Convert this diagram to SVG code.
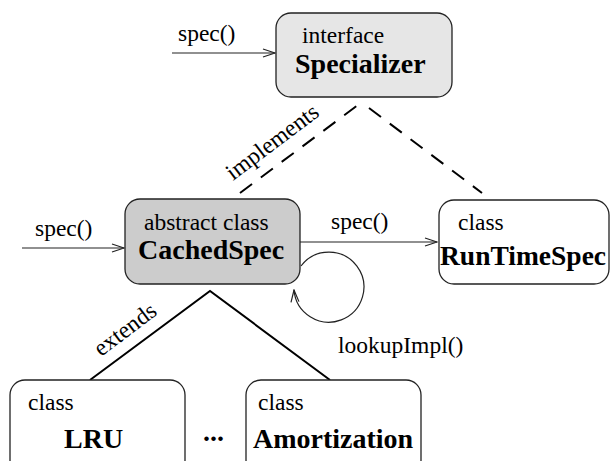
<svg xmlns="http://www.w3.org/2000/svg" width="611" height="461" viewBox="0 0 611 461">
<style>
.box{stroke:#222;stroke-width:1.3}
.n{font-family:"Liberation Serif","Times New Roman",serif;font-size:23.5px;fill:#000}
.b{font-family:"Liberation Serif","Times New Roman",serif;font-size:28px;font-weight:bold;fill:#000}
.ln{stroke:#222;stroke-width:1.2;fill:none}
</style>
<defs>
<marker id="ah" markerWidth="14" markerHeight="10" refX="13" refY="5" orient="auto" markerUnits="userSpaceOnUse">
<path d="M1,1 L13,5 L1,9" fill="none" stroke="#222" stroke-width="1.2"/>
</marker>
</defs>
<rect width="611" height="461" fill="#fff"/>
<g id="connectors">
<line class="ln" x1="172" y1="53" x2="275" y2="53" marker-end="url(#ah)"/>
<text class="n" x="178" y="41">spec()</text>
<line class="ln" x1="22" y1="248" x2="124" y2="248" marker-end="url(#ah)"/>
<text class="n" x="35" y="236">spec()</text>
<line class="ln" x1="300" y1="242" x2="437" y2="242" marker-end="url(#ah)"/>
<text class="n" x="331" y="229">spec()</text>
<path class="ln" d="M301 266 A35 35 0 1 1 294 290" marker-end="url(#ah)"/>
<text class="n" x="338" y="353">lookupImpl()</text>
<line x1="240" y1="193" x2="358" y2="105" stroke="#000" stroke-width="2" stroke-dasharray="15,11"/>
<line x1="369" y1="108" x2="482" y2="193" stroke="#000" stroke-width="2" stroke-dasharray="15,11"/>
<text class="n" transform="translate(233,181) rotate(-37)">implements</text>
<polyline points="90,380 210,291 330,380" fill="none" stroke="#000" stroke-width="2"/>
<text class="n" transform="translate(101,357) rotate(-37)">extends</text>
</g>
<g id="specializer">
<rect class="box" x="276" y="13" width="176" height="84" rx="15" fill="#e6e6e6"/>
<text class="n" x="302" y="43">interface</text>
<text class="b" x="295" y="73">Specializer</text>
</g>
<g id="cachedspec">
<rect class="box" x="125" y="199" width="175" height="85" rx="15" fill="#cccccc"/>
<text class="n" x="144" y="230">abstract class</text>
<text class="b" x="138" y="259">CachedSpec</text>
</g>
<g id="runtimespec">
<rect class="box" x="439" y="200" width="170" height="84" rx="15" fill="#fff"/>
<text class="n" x="458" y="230">class</text>
<text class="b" x="440" y="265" style="font-size:27.5px">RunTimeSpec</text>
</g>
<g id="lru">
<rect class="box" x="10" y="380" width="175" height="95" rx="15" fill="#fff"/>
<text class="n" x="28" y="410">class</text>
<text class="b" x="64" y="448">LRU</text>
</g>
<text class="b" x="203" y="441">...</text>
<g id="amortization">
<rect class="box" x="246" y="380" width="175" height="95" rx="15" fill="#fff"/>
<text class="n" x="258" y="410">class</text>
<text class="b" x="253" y="448">Amortization</text>
</g>
</svg>
